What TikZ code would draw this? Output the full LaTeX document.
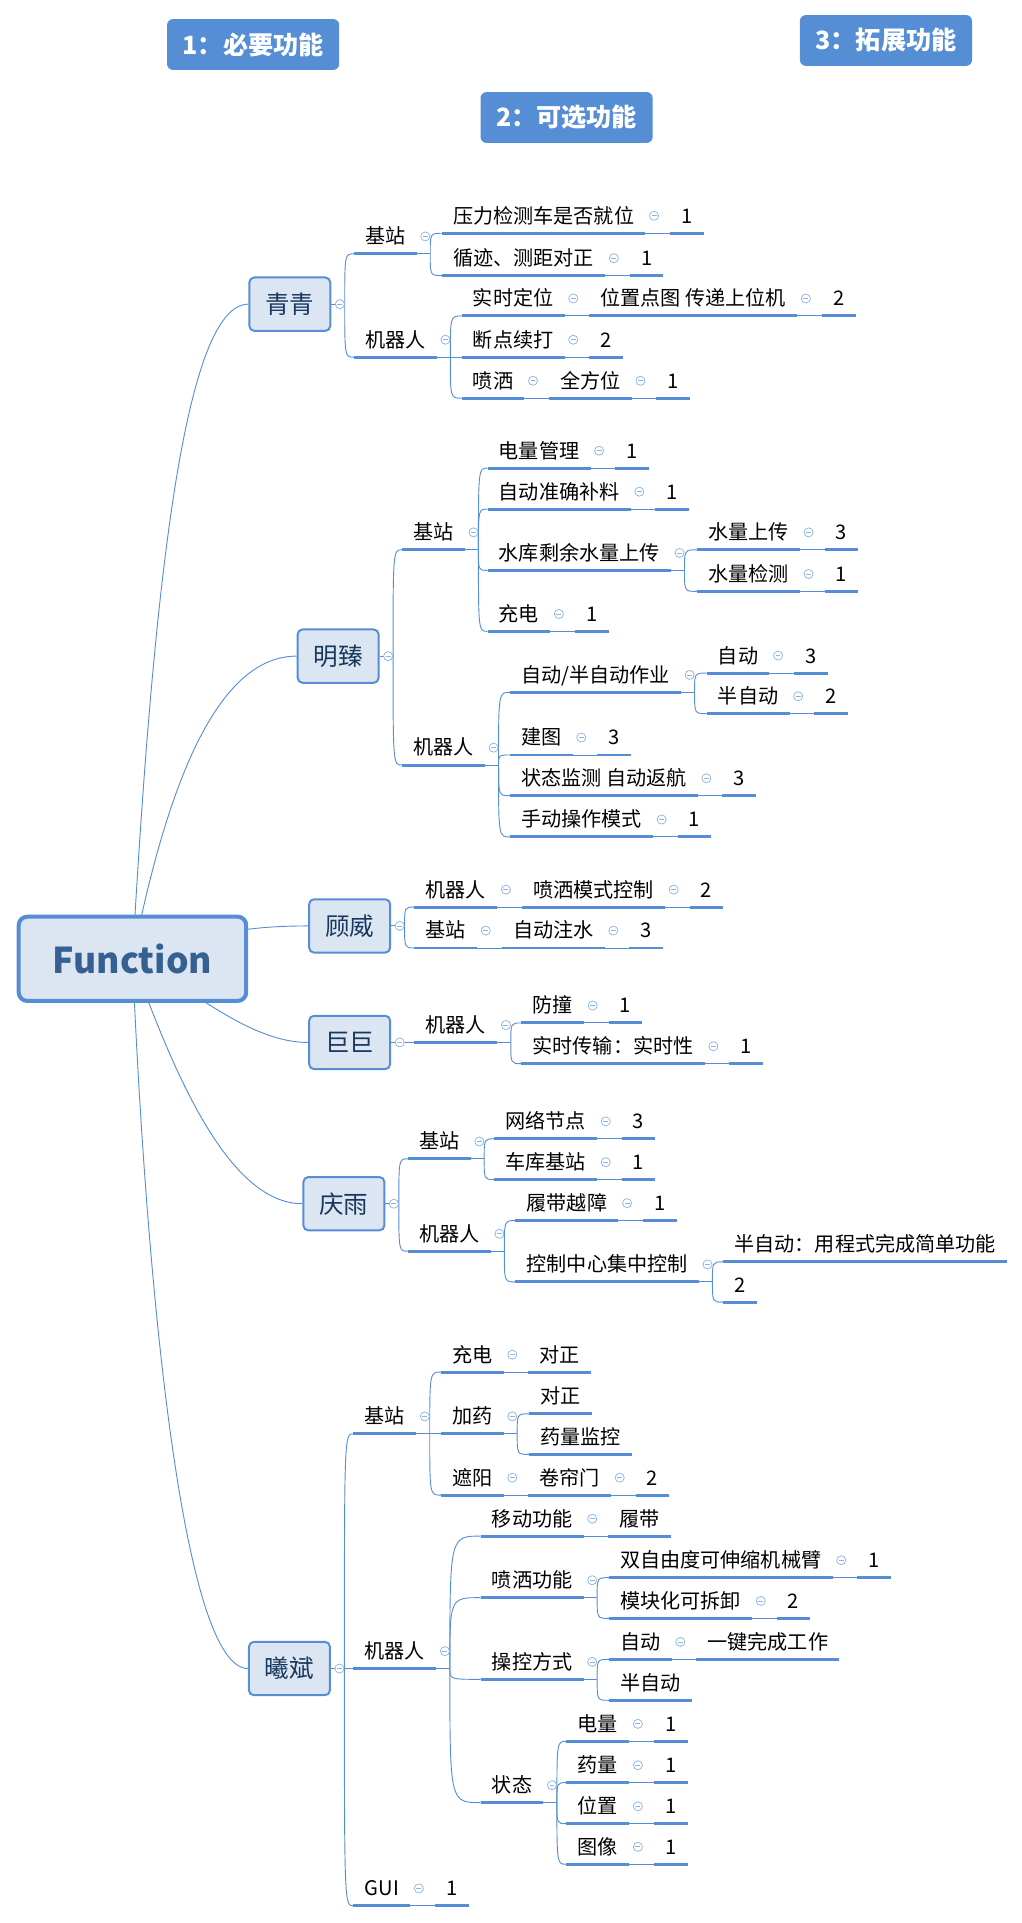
\documentclass[tikz,border=0pt]{standalone}
\usepackage{fontspec}
\setmainfont{Noto Sans CJK SC}
\usetikzlibrary{positioning,backgrounds}

\definecolor{mapblue}{HTML}{558ED5}
\definecolor{boxfill}{HTML}{DCE6F2}
\definecolor{navy}{HTML}{17375E}
\definecolor{hubtext}{HTML}{366092}
\definecolor{foldblue}{HTML}{8DB4E2}

\tikzset{
  ul/.style={draw=mapblue, line width=2.4pt},
  link/.style={draw=mapblue, line width=0.75pt},
  topic/.style={anchor=south west, inner xsep=9pt, inner ysep=0pt,
    minimum height=28pt, text height=14.5pt, text depth=2.5pt,
    font=\fontsize{16.4}{16.4}\selectfont,
    append after command={(\tikzlastnode.south west) edge[ul] (\tikzlastnode.south east)}},
  fold/.style={circle, draw=foldblue, fill=white, line width=0.6pt,
    minimum size=7.4pt, inner sep=0pt,
    path picture={\draw[foldblue, line width=0.6pt]
      ([xshift=-2pt]path picture bounding box.center) -- ([xshift=2pt]path picture bounding box.center);}},
  member/.style={draw=mapblue, fill=boxfill, line width=1.6pt, rounded corners=4pt,
    minimum width=66pt, minimum height=43.5pt, text=navy, font=\fontsize{20}{20}\selectfont},
  hub/.style={draw=mapblue, fill=boxfill, line width=3.3pt, rounded corners=7pt,
    minimum width=185.5pt, minimum height=68.7pt, text=hubtext,
    font=\bfseries\fontsize{29}{29}\selectfont},
  badge/.style={fill=mapblue, rounded corners=5pt, minimum width=140.4pt,
    minimum height=41.5pt, text=white, font=\bfseries\fontsize{20.5}{20.5}\selectfont},
}

% parent -> children: short stub, then one curve per child, fold mark last
\newcommand\fan[3][south east]{%
  \draw[link] (#2.#1) -- ++(11,0) coordinate (j);
  \foreach \c in {#3}{\draw[link] (j) .. controls (j |- \c.south west) .. (\c.south west);}
  \node[fold] at ([xshift=7pt]#2.east) {};
}

\begin{document}
\begin{tikzpicture}[x=1pt, y=-1pt]
\useasboundingbox (0,0) rectangle (833,1568);

% legend
\node[badge] (need) at (206.4,36.3) {1：必要功能};
\node[badge] (option) at (462,95.8) {2：可选功能};
\node[badge] (extend) at (722.4,33) {3：拓展功能};

% centre and members
\node[hub] (fn) at (108,781.8) {Function};
\node[member] (qq) at (236.3,248) {青青};
\node[member] (mz) at (275.7,535) {明臻};
\node[member] (gw) at (285.1,755) {顾威};
\node[member] (jj) at (285.1,850) {巨巨};
\node[member] (qy) at (280.4,981.5) {庆雨};
\node[member] (xb) at (236,1360.5) {曦斌};

\begin{scope}[on background layer]
  \draw[link] (fn.center) .. controls (125,480) and (150,248) .. (qq.west);
  \draw[link] (fn.center) .. controls (138,630) and (180,535) .. (mz.west);
  \draw[link] (fn.center) .. controls (170,760) and (205,755) .. (gw.west);
  \draw[link] (fn.center) .. controls (150,800) and (200,850) .. (jj.west);
  \draw[link] (fn.center) .. controls (140,870) and (185,981.5) .. (qy.west);
  \draw[link] (fn.center) .. controls (120,1062) and (150,1360.5) .. (xb.west);
\end{scope}

% 青青
\node[topic] (qqA) at (288.6,207) {基站};
\node[topic] (qqB) at (288.6,291.2) {机器人};
\fan[east]{qq}{qqA,qqB}
\node[topic] (qqA1) at (360.3,190.2) {压力检测车是否就位};
\node[topic, right=20pt of qqA1] (qqA1v) {1};
\node[topic] (qqA2) at (360.3,224.7) {循迹、测距对正};
\node[topic, right=20pt of qqA2] (qqA2v) {1};
\fan{qqA}{qqA1,qqA2}
\fan{qqA1}{qqA1v}
\fan{qqA2}{qqA2v}
\node[topic] (qqB1) at (376.4,257.6) {实时定位};
\node[topic, right=20pt of qqB1] (qqB1a) {位置点图 传递上位机};
\node[topic, right=20pt of qqB1a] (qqB1v) {2};
\node[topic] (qqB2) at (376.4,291.2) {断点续打};
\node[topic, right=20pt of qqB2] (qqB2v) {2};
\node[topic] (qqB3) at (376.4,324.7) {喷洒};
\node[topic, right=20pt of qqB3] (qqB3a) {全方位};
\node[topic, right=20pt of qqB3a] (qqB3v) {1};
\fan{qqB}{qqB1,qqB2,qqB3}
\fan{qqB1}{qqB1a}
\fan{qqB1a}{qqB1v}
\fan{qqB2}{qqB2v}
\fan{qqB3}{qqB3a}
\fan{qqB3a}{qqB3v}

% 明臻
\node[topic] (mzA) at (327.9,448.3) {基站};
\node[topic] (mzB) at (327.9,623.8) {机器人};
\fan[east]{mz}{mzA,mzB}
\node[topic] (mzA1) at (397.5,381.7) {电量管理};
\node[topic, right=20pt of mzA1] (mzA1v) {1};
\node[topic] (mzA2) at (397.5,415.1) {自动准确补料};
\node[topic, right=20pt of mzA2] (mzA2v) {1};
\node[topic] (mzA3) at (397.5,465.1) {水库剩余水量上传};
\node[topic] (mzA4) at (397.5,514.8) {充电};
\node[topic, right=20pt of mzA4] (mzA4v) {1};
\fan{mzA}{mzA1,mzA2,mzA3,mzA4}
\fan{mzA1}{mzA1v}
\fan{mzA2}{mzA2v}
\fan{mzA4}{mzA4v}
\node[topic] (mzA3a) at (568.3,448.3) {水量上传};
\node[topic, right=20pt of mzA3a] (mzA3av) {3};
\node[topic] (mzA3b) at (568.3,482.2) {水量检测};
\node[topic, right=20pt of mzA3b] (mzA3bv) {1};
\fan{mzA3}{mzA3a,mzA3b}
\fan{mzA3a}{mzA3av}
\fan{mzA3b}{mzA3bv}
\node[topic] (mzB1) at (415.7,564.5) {自动/半自动作业};
\node[topic] (mzB2) at (415.7,615.6) {建图};
\node[topic, right=20pt of mzB2] (mzB2v) {3};
\node[topic] (mzB3) at (415.7,648.8) {状态监测 自动返航};
\node[topic, right=20pt of mzB3] (mzB3v) {3};
\node[topic] (mzB4) at (415.7,682.4) {手动操作模式};
\node[topic, right=20pt of mzB4] (mzB4v) {1};
\fan{mzB}{mzB1,mzB2,mzB3,mzB4}
\fan{mzB2}{mzB2v}
\fan{mzB3}{mzB3v}
\fan{mzB4}{mzB4v}
\node[topic] (mzB1a) at (576.2,548.8) {自动};
\node[topic, right=20pt of mzB1a] (mzB1av) {3};
\node[topic] (mzB1b) at (576.2,581.9) {半自动};
\node[topic, right=20pt of mzB1b] (mzB1bv) {2};
\fan{mzB1}{mzB1a,mzB1b}
\fan{mzB1a}{mzB1av}
\fan{mzB1b}{mzB1bv}

% 顾威
\node[topic] (gwA) at (337.9,739.6) {机器人};
\node[topic, right=20pt of gwA] (gwA1) {喷洒模式控制};
\node[topic, right=20pt of gwA1] (gwA1v) {2};
\node[topic] (gwB) at (337.9,773) {基站};
\node[topic, right=20pt of gwB] (gwB1) {自动注水};
\node[topic, right=20pt of gwB1] (gwB1v) {3};
\fan[east]{gw}{gwA,gwB}
\fan{gwA}{gwA1}
\fan{gwA1}{gwA1v}
\fan{gwB}{gwB1}
\fan{gwB1}{gwB1v}

% 巨巨
\node[topic] (jjA) at (337.9,850) {机器人};
\fan[east]{jj}{jjA}
\node[topic] (jjA1) at (425.1,834.1) {防撞};
\node[topic, right=20pt of jjA1] (jjA1v) {1};
\node[topic] (jjA2) at (425.1,867.3) {实时传输：实时性};
\node[topic, right=20pt of jjA2] (jjA2v) {1};
\fan{jjA}{jjA1,jjA2}
\fan{jjA1}{jjA1v}
\fan{jjA2}{jjA2v}

% 庆雨
\node[topic] (qyA) at (332.6,944.9) {基站};
\node[topic] (qyB) at (332.6,1020.2) {机器人};
\fan[east]{qy}{qyA,qyB}
\node[topic] (qyA1) at (402.9,928.6) {网络节点};
\node[topic, right=20pt of qyA1] (qyA1v) {3};
\node[topic] (qyA2) at (402.9,961.8) {车库基站};
\node[topic, right=20pt of qyA2] (qyA2v) {1};
\fan{qyA}{qyA1,qyA2}
\fan{qyA1}{qyA1v}
\fan{qyA2}{qyA2v}
\node[topic] (qyB1) at (420.3,995.2) {履带越障};
\node[topic, right=20pt of qyB1] (qyB1v) {1};
\node[topic] (qyB2) at (420.3,1045.2) {控制中心集中控制};
\fan{qyB}{qyB1,qyB2}
\fan{qyB1}{qyB1v}
\node[topic] (qyB2a) at (589.7,1028.9) {半自动：用程式完成简单功能};
\node[topic] (qyB2b) at (589.7,1061.7) {2};
\fan{qyB2}{qyB2a,qyB2b}

% 曦斌
\node[topic] (xbA) at (288.2,1169.1) {基站};
\node[topic] (xbB) at (288.2,1360.5) {机器人};
\node[topic] (xbC) at (288.2,1554) {GUI};
\node[topic, right=20pt of xbC] (xbCv) {1};
\fan[east]{xb}{xbA,xbB,xbC}
\fan{xbC}{xbCv}
\node[topic] (xbA1) at (359.5,1118.8) {充电};
\node[topic, right=20pt of xbA1] (xbA1a) {对正};
\node[topic] (xbA2) at (359.5,1169.1) {加药};
\node[topic] (xbA3) at (359.5,1219.1) {遮阳};
\node[topic, right=20pt of xbA3] (xbA3a) {卷帘门};
\node[topic, right=20pt of xbA3a] (xbA3v) {2};
\fan{xbA}{xbA1,xbA2,xbA3}
\fan{xbA1}{xbA1a}
\fan{xbA3}{xbA3a}
\fan{xbA3a}{xbA3v}
\node[topic] (xbA2a) at (431.4,1152.8) {对正};
\node[topic] (xbA2b) at (431.4,1185.9) {药量监控};
\fan{xbA2}{xbA2a,xbA2b}
\node[topic] (xbB1) at (391.9,1252.5) {移动功能};
\node[topic, right=20pt of xbB1] (xbB1a) {履带};
\node[topic] (xbB2) at (391.9,1302.7) {喷洒功能};
\node[topic] (xbB3) at (391.9,1369.3) {操控方式};
\node[topic] (xbB4) at (391.9,1469.8) {状态};
\fan{xbB}{xbB1,xbB2,xbB3,xbB4}
\fan{xbB1}{xbB1a}
\node[topic] (xbB2a) at (496.5,1286.4) {双自由度可伸缩机械臂};
\node[topic, right=20pt of xbB2a] (xbB2av) {1};
\node[topic] (xbB2b) at (496.5,1319.6) {模块化可拆卸};
\node[topic, right=20pt of xbB2b] (xbB2bv) {2};
\fan{xbB2}{xbB2a,xbB2b}
\fan{xbB2a}{xbB2av}
\fan{xbB2b}{xbB2bv}
\node[topic] (xbB3a) at (496.5,1353) {自动};
\node[topic, right=20pt of xbB3a] (xbB3aa) {一键完成工作};
\node[topic] (xbB3b) at (496.5,1386.4) {半自动};
\fan{xbB3}{xbB3a,xbB3b}
\fan{xbB3a}{xbB3aa}
\node[topic] (xbB4a) at (461.9,1419.8) {电量};
\node[topic, right=20pt of xbB4a] (xbB4av) {1};
\node[topic] (xbB4b) at (461.9,1453.5) {药量};
\node[topic, right=20pt of xbB4b] (xbB4bv) {1};
\node[topic] (xbB4c) at (461.9,1487) {位置};
\node[topic, right=20pt of xbB4c] (xbB4cv) {1};
\node[topic] (xbB4d) at (461.9,1520.1) {图像};
\node[topic, right=20pt of xbB4d] (xbB4dv) {1};
\fan{xbB4}{xbB4a,xbB4b,xbB4c,xbB4d}
\fan{xbB4a}{xbB4av}
\fan{xbB4b}{xbB4bv}
\fan{xbB4c}{xbB4cv}
\fan{xbB4d}{xbB4dv}
\end{tikzpicture}
\end{document}
